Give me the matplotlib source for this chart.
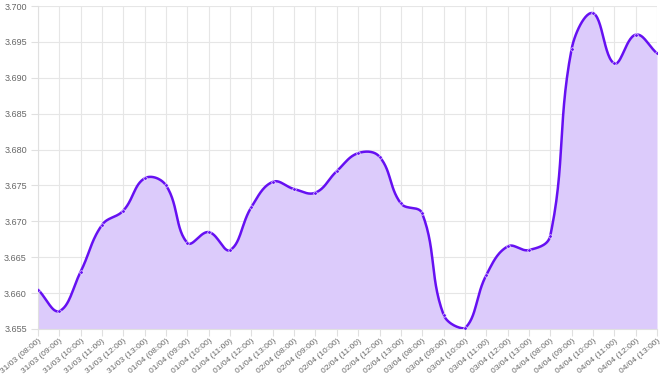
import numpy as np
import matplotlib
matplotlib.use("Agg")
import matplotlib.pyplot as plt

plt.rcParams["font.family"] = ["Liberation Sans", "DejaVu Sans"]

days = ["31/03", "01/04", "02/04", "03/04", "04/04"]
hours = ["08:00", "09:00", "10:00", "11:00", "12:00", "13:00"]
labels = [d + " (" + h + ")" for d in days for h in hours]

rates = [3.6605, 3.6575, 3.6630, 3.6695, 3.6715, 3.6760,
         3.6750, 3.6670, 3.6685, 3.6660, 3.6720, 3.6755,
         3.6745, 3.6740, 3.6770, 3.6795, 3.6790, 3.6725,
         3.6711, 3.6570, 3.6551, 3.6625, 3.6665, 3.6660,
         3.6680, 3.6940, 3.6990, 3.6920, 3.6960, 3.6934]

y_min, y_max = 3.655, 3.700
line_col = "#6610f2"
fill_col = "#dccbfb"

W, H = 661, 376
fig = plt.figure(figsize=(W / 100, H / 100), dpi=100)
ax = fig.add_axes([38 / W, 1 - 329 / H, 619 / W, 323 / H])

# chart.js style bezier smoothing (tension 0.4), computed in pixel space
n = len(rates)
px = np.arange(n) * 619 / (n - 1)
py = (np.array(rates) - y_min) / (y_max - y_min) * 323
t = 0.4
cp_prev = np.zeros((n, 2))
cp_next = np.zeros((n, 2))
for i in range(n):
    cur = np.array([px[i], py[i]])
    prev = np.array([px[max(i - 1, 0)], py[max(i - 1, 0)]])
    nxt = np.array([px[min(i + 1, n - 1)], py[min(i + 1, n - 1)]])
    d01 = np.hypot(*(cur - prev))
    d12 = np.hypot(*(nxt - cur))
    tot = d01 + d12
    s01 = d01 / tot if tot else 0
    s12 = d12 / tot if tot else 0
    cp_prev[i] = cur - t * s01 * (nxt - prev)
    cp_next[i] = cur + t * s12 * (nxt - prev)
cp_prev[:, 1] = np.clip(cp_prev[:, 1], 0, 323)
cp_next[:, 1] = np.clip(cp_next[:, 1], 0, 323)

xs, ys = [], []
u = np.linspace(0, 1, 30)
for i in range(n - 1):
    p0 = np.array([px[i], py[i]])
    p1 = cp_next[i]
    p2 = cp_prev[i + 1]
    p3 = np.array([px[i + 1], py[i + 1]])
    b = ((1 - u) ** 3)[:, None] * p0 + (3 * (1 - u) ** 2 * u)[:, None] * p1 \
        + (3 * (1 - u) * u ** 2)[:, None] * p2 + (u ** 3)[:, None] * p3
    xs.extend(b[:, 0])
    ys.extend(b[:, 1])
xs = np.array(xs) / 619 * (n - 1)
ys = np.array(ys) / 323 * (y_max - y_min) + y_min

ax.fill_between(xs, ys, y_min, color=fill_col, zorder=1, lw=0)
ax.plot(xs, ys, color=line_col, lw=1.8, zorder=3, solid_capstyle="round")
ax.plot(range(n), rates, "o", color=line_col, ms=2.5, mec="white", mew=0.4, zorder=4)

ax.set_xlim(0, n - 1)
ax.set_ylim(y_min, y_max)
yt = np.arange(3.655, 3.7001, 0.005)
ax.set_yticks(yt)
ax.set_yticklabels(["%.3f" % v for v in yt])
ax.set_xticks(range(n))
ax.set_xticklabels(labels, rotation=40, ha="right", rotation_mode="anchor")
ax.grid(True, color="#e6e6e6", lw=0.8, zorder=0)
ax.set_axisbelow(True)
for s in ax.spines.values():
    s.set_visible(False)
ax.spines["left"].set_visible(True)
ax.spines["left"].set_color("#e0e0e0")
ax.spines["bottom"].set_visible(True)
ax.spines["bottom"].set_color("#e0e0e0")
ax.tick_params(axis="both", colors="#e0e0e0", labelcolor="#666666", length=5, width=0.8)
ax.tick_params(axis="y", labelsize=6.5, pad=3)
ax.tick_params(axis="x", labelsize=6, pad=1)

fig.savefig("out.png", dpi=100)
